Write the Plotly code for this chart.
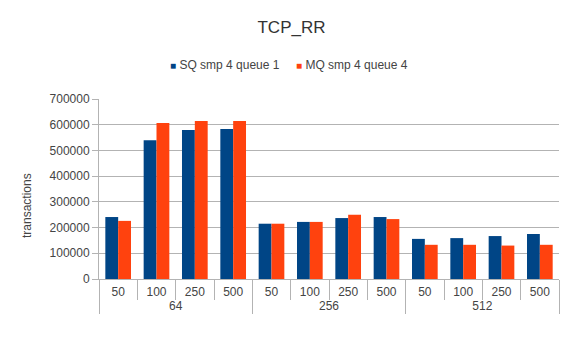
import plotly.graph_objects as go

# Message sizes (outer level) and request sizes (inner level)
groups = ["64"] * 4 + ["256"] * 4 + ["512"] * 4
sizes = ["50", "100", "250", "500"] * 3

series_names = ["SQ smp 4 queue 1", "MQ smp 4 queue 4"]
series_colors = ["#004586", "#ff420e"]

sq_values = [241000, 540000, 579000, 583000,
             215000, 222000, 237000, 241000,
             156000, 159000, 167000, 175000]
mq_values = [226000, 607000, 614000, 614000,
             215000, 222000, 250000, 233000,
             133000, 133000, 130000, 133000]

y_ticks = [0, 100000, 200000, 300000, 400000, 500000, 600000, 700000]

font_family = "Liberation Sans, Arial, sans-serif"
text_color = "#444444"
grid_color = "#b3b3b3"

W, H = 583, 342
L, R, T, B = 99, 24, 99, 63
PW, PH = W - L - R, H - T - B


def px_to_paper(px, py):
    return (px - L) / PW, (H - B - py) / PH


fig = go.Figure()
for name, color, vals in zip(series_names, series_colors, [sq_values, mq_values]):
    fig.add_trace(go.Bar(x=[groups, sizes], y=vals, name=name,
                         marker=dict(color=color, line=dict(width=0)),
                         showlegend=False))

fig.update_layout(
    width=W, height=H,
    margin=dict(l=L, r=R, t=T, b=B),
    paper_bgcolor="white", plot_bgcolor="white",
    font=dict(family=font_family, size=12, color=text_color),
    barmode="group", bargap=0.33, bargroupgap=0,
    title=dict(text="TCP_RR", x=0.5, xref="container", xanchor="center",
               y=1 - 27 / H, yref="container", yanchor="middle",
               font=dict(size=17, color="#333333")),
)

fig.update_xaxes(
    type="multicategory",
    showline=True, linecolor=grid_color, linewidth=1,
    ticks="outside", ticklen=20, tickcolor=grid_color,
    showdividers=True, dividercolor=grid_color, dividerwidth=1,
    tickfont=dict(size=12, color=text_color),
    ticklabelstandoff=2,
    showgrid=False,
)
fig.update_yaxes(
    range=[0, 700000], tickvals=y_ticks, ticktext=[str(v) for v in y_ticks],
    showgrid=True, gridcolor=grid_color, gridwidth=1,
    showline=True, linecolor=grid_color, linewidth=1,
    ticks="outside", ticklen=6, tickcolor=grid_color,
    tickfont=dict(size=12, color=text_color),
    zeroline=False,
)

# Legend: a coloured square followed by the series name, one row
for name, color, left in zip(series_names, series_colors, [168, 294]):
    lx, ly = px_to_paper(left, 65)
    fig.add_annotation(
        text=f"<span style='color:{color};font-size:10px'>■</span>&nbsp;{name}",
        x=lx, y=ly, xref="paper", yref="paper", xanchor="left", yanchor="middle",
        showarrow=False, font=dict(size=12, color=text_color))

# Vertical axis title, centred on the full axis line
tx, ty = px_to_paper(27, 206)
fig.add_annotation(text="transactions", textangle=-90, x=tx, y=ty,
                   xref="paper", yref="paper", xanchor="center", yanchor="middle",
                   showarrow=False, font=dict(size=12, color=text_color))

fig.write_html("out.html")
